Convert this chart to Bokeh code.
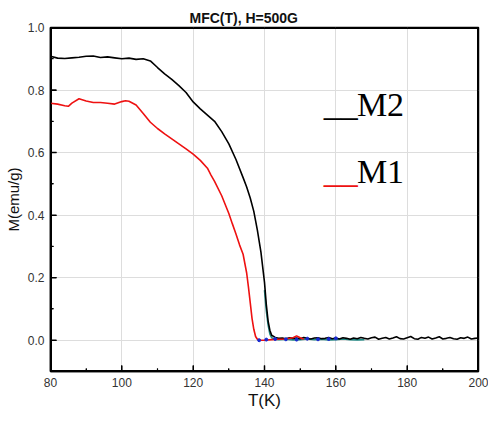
import math
from bokeh.plotting import figure
from bokeh.models import Range1d, SingleIntervalTicker, Label, NumeralTickFormatter
from bokeh.embed import file_html
from bokeh.resources import INLINE

# axis extents and tick values
X_MIN, X_MAX = 80, 200
Y_MIN, Y_MAX = -0.1, 1.0
x_major = [80, 100, 120, 140, 160, 180, 200]
x_minor = [90, 110, 130, 150, 170, 190]
y_major = [0.0, 0.2, 0.4, 0.6, 0.8, 1.0]
y_minor = [0.1, 0.3, 0.5, 0.7, 0.9]

# M2 (black) data
t_m2 = [80, 82, 84, 86, 88, 90, 92, 94, 96, 98, 100, 102, 104, 106, 108, 110, 112, 114, 116, 118,
        120, 122, 124, 126, 128, 130, 132, 134, 135, 136, 137, 138, 139, 140, 140.5, 141, 141.5, 142, 143,
        144, 145, 146, 147, 148, 149, 150, 151, 152, 153, 154, 155, 156, 157, 158, 159, 160,
        161, 162, 163, 164, 165, 166, 167, 168, 169, 170, 171, 172, 173, 174, 175, 176, 177, 178, 179, 180,
        181, 182, 183, 184, 185, 186, 187, 188, 189, 190, 191, 192, 193, 194, 195, 196, 197, 198, 199, 200]
m_m2 = [0.908, 0.902, 0.901, 0.903, 0.905, 0.908, 0.909, 0.904, 0.906, 0.903, 0.900, 0.902, 0.898, 0.900, 0.893,
        0.872, 0.852, 0.834, 0.814, 0.792, 0.762, 0.740, 0.720, 0.700, 0.667, 0.628, 0.578, 0.520, 0.490, 0.455,
        0.412, 0.352, 0.282, 0.185, 0.115, 0.062, 0.032, 0.016, 0.009,
        0.006, 0.007, 0.005, 0.008, 0.006, 0.007, 0.005, 0.009, 0.006, 0.004, 0.007, 0.008, 0.005, 0.006, 0.009, 0.005, 0.007,
        0.004, 0.008, 0.006, 0.003, 0.007, 0.005, 0.009, 0.006, 0.004, 0.008, 0.010, 0.003, 0.006, 0.009, 0.004, 0.007, 0.011, 0.005, 0.004, 0.008,
        0.012, 0.005, 0.003, 0.009, 0.006, 0.010, 0.004, 0.007, 0.011, 0.004, 0.006, 0.009, 0.005, 0.003, 0.008, 0.006, 0.010, 0.004, 0.006, 0.007]

# M1 (red) data
t_m1 = [80, 82, 84, 85, 86, 88, 90, 92, 94, 96, 98, 100, 101, 102, 104, 106, 108, 110, 112, 114, 116, 118,
        120, 122, 124, 125, 126, 128, 130, 131, 132, 133, 134, 135, 135.5, 136, 136.5, 137, 137.5, 138, 139,
        140, 142, 144, 146, 148, 149, 150, 151]
m_m1 = [0.758, 0.755, 0.750, 0.748, 0.758, 0.772, 0.765, 0.760, 0.760, 0.758, 0.755, 0.763, 0.766, 0.764, 0.752,
        0.725, 0.697, 0.677, 0.660, 0.644, 0.628, 0.612, 0.595, 0.575, 0.550, 0.528, 0.508, 0.462, 0.405, 0.372,
        0.340, 0.305, 0.275, 0.215, 0.170, 0.120, 0.070, 0.035, 0.012, 0.003, 0.000,
        0.000, 0.002, 0.003, 0.004, 0.008, 0.014, 0.008, 0.003]

# teal series (mostly hidden behind black)
t_teal = [140.0, 140.5, 141, 141.5, 142, 143, 144, 146, 148, 150, 152, 154, 156, 158, 160, 162, 164, 166, 168]
m_teal = [0.160, 0.095, 0.050, 0.020, 0.008, 0.003, 0.002, 0.003, 0.001, 0.002, 0.004, 0.002, 0.003, 0.001, 0.002, 0.004, 0.002, 0.001, 0.002]

# blue scatter points
t_blue = [138.5, 140.5, 143, 146, 149, 152, 155, 158, 160]
m_blue = [0.0, 0.002, 0.004, 0.003, 0.002, 0.005, 0.003, 0.004, 0.006]

title_text = "MFC(T), H=500G"
SERIF = "Liberation Serif"

p = figure(width=488, height=412, output_backend="svg", toolbar_location=None,
           x_range=Range1d(X_MIN, X_MAX), y_range=Range1d(Y_MIN, Y_MAX),
           min_border_left=50, min_border_right=10, min_border_top=27, min_border_bottom=40)

p.background_fill_color = None
p.border_fill_color = None

p.title.text = title_text
p.title.align = "left"
p.title.offset = 139
p.title.standoff = 4
p.title.text_font_size = "14px"
p.title.text_font_style = "bold"
p.title.text_color = "#111111"

p.outline_line_color = "black"
p.outline_line_width = 1.5

p.xaxis.ticker = SingleIntervalTicker(interval=20, num_minor_ticks=2)
p.yaxis.ticker = SingleIntervalTicker(interval=0.2, num_minor_ticks=2)
p.yaxis.formatter = NumeralTickFormatter(format="0.0")

for ax in (p.xaxis, p.yaxis):
    ax.axis_line_color = "black"
    ax.axis_line_width = 1.5
    ax.major_tick_in = 6
    ax.major_tick_out = 0
    ax.minor_tick_in = 3
    ax.minor_tick_out = 0
    ax.major_tick_line_color = "black"
    ax.minor_tick_line_color = "black"
    ax.major_label_text_font_size = "12px"
    ax.major_label_text_color = "#333333"
    ax.axis_label_text_font_style = "normal"
    ax.axis_label_text_color = "#111111"

p.xaxis.axis_label = "T(K)"
p.xaxis.axis_label_text_font_size = "17px"
p.xaxis.major_label_standoff = 6
p.xaxis.axis_label_standoff = 1
p.yaxis.axis_label = "M(emu/g)"
p.yaxis.axis_label_text_font_size = "15px"
p.yaxis.major_label_standoff = 6
p.yaxis.axis_label_standoff = 3

p.xgrid.grid_line_color = "#dddddd"
p.ygrid.grid_line_color = "#dddddd"

# frame border and inward tick marks drawn as glyphs (clipped to the frame)
p.quad(left=[X_MIN], right=[X_MAX], bottom=[Y_MIN], top=[Y_MAX],
       fill_color=None, line_color="black", line_width=3)
p.scatter(x_major, [Y_MIN] * len(x_major), marker="dash", angle=math.pi / 2, size=12,
          line_color="black", line_width=1.5)
p.scatter(x_minor, [Y_MIN] * len(x_minor), marker="dash", angle=math.pi / 2, size=6,
          line_color="black", line_width=1.2)
p.scatter([X_MIN] * len(y_major), y_major, marker="dash", size=12,
          line_color="black", line_width=1.5)
p.scatter([X_MIN] * len(y_minor), y_minor, marker="dash", size=6,
          line_color="black", line_width=1.2)

p.line(t_teal, m_teal, line_color="#1f8a85", line_width=1.6)
p.line(t_m2, m_m2, line_color="black", line_width=1.6)
p.line(t_m1, m_m1, line_color="#ee1111", line_width=1.6)
p.scatter(t_blue, m_blue, size=3, color="#1a2ad0")

# legend-like annotations
p.add_layout(Label(x=156.6, y=0.754, text="__", text_font=SERIF, text_font_size="34px",
                   text_baseline="alphabetic", text_color="black"))
p.add_layout(Label(x=165.9, y=0.754, text="M2", text_font=SERIF, text_font_size="34px",
                   text_baseline="alphabetic", text_color="black"))
p.add_layout(Label(x=156.6, y=0.538, text="__", text_font=SERIF, text_font_size="34px",
                   text_baseline="alphabetic", text_color="#ee1111"))
p.add_layout(Label(x=165.9, y=0.538, text="M1", text_font=SERIF, text_font_size="34px",
                   text_baseline="alphabetic", text_color="black"))

open("out.html", "w").write(file_html(p, INLINE))
